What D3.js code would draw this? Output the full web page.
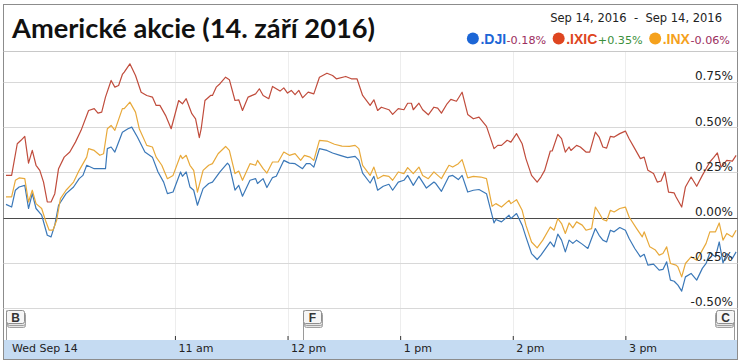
<!DOCTYPE html>
<html>
<head>
<meta charset="utf-8">
<script src="https://cdnjs.cloudflare.com/ajax/libs/d3/7.8.5/d3.min.js"></script>
<style>
	html, body { margin: 0; padding: 0; background: #fff; }
	svg { display: block; }
	text { font-family: "DejaVu Sans", Verdana, sans-serif; }
</style>
</head>
<body>
<div id="holder" style="width:743px;height:362px"><svg id="chart"></svg></div>
<script>
// texts
const title = "Americké akcie (14. září 2016)";
const dateRange = "Sep 14, 2016  -  Sep 14, 2016";
const dayLabel = "Wed Sep 14";

// legend
const symbols = [".DJI", ".IXIC", ".INX"];
const changes = ["-0.18%", "+0.35%", "-0.06%"];

// axes
const hourTicks = [90, 150, 210, 270, 330]; // minutes after 9:30 open
const hourLabels = ["11 am", "12 pm", "1 pm", "2 pm", "3 pm"];
const pctTicks = [-0.5, -0.25, 0, 0.25, 0.5, 0.75];

// news flags
const flagLetters = ["B", "F", "C"];
const flagMinutes = [0, 158, 388];

// [minutes after open, % change]
const dji = [[0,0.073],[3,0.058],[5,0.151],[7,0.169],[10,0.178],[12,0.050],[14,0.132],[16,0.050],[19,0.013],[22,-0.098],[24,-0.107],[26,-0.042],[28,0.068],[32,0.132],[36,0.169],[39,0.215],[41,0.233],[43,0.289],[47,0.270],[50,0.270],[53,0.270],[54,0.381],[56,0.390],[58,0.362],[62,0.472],[65,0.491],[67,0.500],[70,0.445],[74,0.362],[78,0.334],[81,0.252],[84,0.196],[86,0.132],[89,0.141],[93,0.252],[94,0.228],[96,0.252],[98,0.169],[100,0.151],[102,0.068],[105,0.160],[108,0.188],[110,0.196],[114,0.252],[118,0.301],[119,0.289],[122,0.151],[124,0.178],[126,0.118],[130,0.206],[133,0.215],[134,0.188],[137,0.215],[139,0.166],[142,0.221],[144,0.228],[148,0.316],[151,0.301],[154,0.298],[158,0.270],[160,0.298],[162,0.298],[164,0.279],[167,0.381],[171,0.371],[174,0.357],[178,0.344],[182,0.331],[186,0.338],[188,0.316],[190,0.246],[194,0.191],[196,0.228],[198,0.151],[201,0.173],[204,0.184],[206,0.151],[209,0.196],[212,0.206],[214,0.233],[217,0.178],[220,0.228],[224,0.163],[228,0.196],[229,0.188],[232,0.145],[236,0.228],[238,0.233],[241,0.210],[243,0.233],[246,0.141],[249,0.151],[252,0.155],[256,0.132],[260,-0.030],[261,-0.011],[264,-0.024],[268,0.013],[269,-0.006],[272,0.022],[275,-0.042],[277,-0.107],[280,-0.199],[283,-0.232],[285,-0.208],[290,-0.135],[292,-0.162],[294,-0.092],[296,-0.125],[298,-0.190],[300,-0.125],[302,-0.143],[304,-0.125],[307,-0.147],[310,-0.171],[314,-0.061],[316,-0.098],[318,-0.125],[320,-0.135],[322,-0.070],[324,-0.079],[327,-0.055],[330,-0.070],[332,-0.116],[335,-0.171],[338,-0.217],[340,-0.203],[342,-0.263],[345,-0.258],[348,-0.291],[350,-0.287],[352,-0.245],[354,-0.346],[356,-0.352],[358,-0.374],[360,-0.407],[362,-0.328],[365,-0.309],[368,-0.346],[371,-0.281],[373,-0.254],[375,-0.195],[378,-0.217],[380,-0.135],[382,-0.251],[384,-0.199],[387,-0.226],[389,-0.190]];

const ixic = [[0,0.233],[3,0.233],[6,0.408],[8,0.427],[10,0.449],[12,0.301],[14,0.371],[16,0.289],[18,0.261],[20,0.196],[22,0.086],[24,0.086],[26,0.132],[28,0.270],[31,0.334],[34,0.362],[37,0.417],[40,0.482],[44,0.592],[47,0.602],[49,0.577],[51,0.583],[53,0.666],[56,0.758],[58,0.721],[60,0.730],[62,0.791],[63,0.804],[66,0.850],[69,0.785],[72,0.693],[75,0.675],[78,0.666],[80,0.620],[82,0.620],[85,0.565],[88,0.491],[92,0.647],[94,0.629],[96,0.657],[99,0.574],[101,0.546],[103,0.442],[104,0.491],[106,0.647],[109,0.675],[110,0.675],[112,0.721],[114,0.740],[117,0.776],[119,0.762],[122,0.647],[124,0.651],[126,0.592],[129,0.666],[133,0.684],[135,0.712],[137,0.675],[140,0.657],[142,0.725],[146,0.699],[148,0.717],[150,0.688],[152,0.703],[154,0.679],[156,0.703],[158,0.662],[161,0.693],[164,0.684],[167,0.776],[171,0.798],[174,0.785],[176,0.767],[181,0.780],[184,0.767],[187,0.767],[190,0.675],[194,0.620],[196,0.651],[198,0.592],[200,0.610],[204,0.596],[206,0.570],[209,0.602],[212,0.596],[214,0.632],[216,0.632],[217,0.596],[220,0.632],[222,0.596],[225,0.568],[228,0.610],[230,0.605],[232,0.577],[235,0.629],[237,0.653],[240,0.643],[243,0.693],[246,0.570],[249,0.546],[252,0.555],[256,0.504],[260,0.381],[262,0.399],[264,0.399],[267,0.427],[269,0.417],[272,0.464],[275,0.408],[277,0.326],[280,0.233],[283,0.196],[285,0.224],[287,0.261],[290,0.368],[291,0.368],[294,0.460],[296,0.436],[298,0.362],[300,0.390],[301,0.371],[304,0.399],[306,0.390],[309,0.362],[311,0.362],[314,0.472],[316,0.445],[318,0.390],[320,0.384],[322,0.449],[324,0.445],[327,0.464],[330,0.478],[332,0.436],[335,0.381],[338,0.326],[340,0.334],[342,0.261],[345,0.243],[347,0.196],[349,0.202],[351,0.252],[353,0.141],[356,0.136],[357,0.114],[360,0.058],[362,0.169],[365,0.224],[368,0.173],[371,0.233],[373,0.270],[375,0.307],[377,0.331],[379,0.357],[381,0.279],[384,0.316],[387,0.312],[389,0.344]];

const inx = [[0,0.114],[3,0.114],[5,0.206],[7,0.219],[10,0.215],[12,0.086],[14,0.151],[16,0.077],[19,0.050],[21,-0.015],[23,-0.070],[25,-0.070],[27,-0.015],[29,0.105],[32,0.151],[36,0.196],[39,0.261],[43,0.334],[44,0.381],[47,0.371],[50,0.344],[52,0.353],[54,0.491],[56,0.509],[58,0.482],[62,0.602],[63,0.602],[66,0.638],[69,0.583],[71,0.491],[75,0.399],[78,0.390],[80,0.334],[83,0.289],[86,0.215],[89,0.233],[93,0.344],[94,0.326],[96,0.344],[98,0.289],[100,0.261],[102,0.141],[105,0.261],[108,0.289],[110,0.298],[113,0.353],[117,0.393],[119,0.371],[122,0.243],[124,0.257],[126,0.206],[130,0.298],[133,0.289],[134,0.316],[137,0.270],[139,0.246],[142,0.307],[145,0.307],[148,0.362],[151,0.344],[154,0.353],[157,0.316],[159,0.344],[162,0.334],[164,0.316],[167,0.427],[171,0.423],[175,0.405],[179,0.395],[183,0.393],[186,0.399],[188,0.381],[190,0.289],[194,0.233],[196,0.279],[198,0.215],[201,0.233],[204,0.228],[206,0.206],[209,0.252],[212,0.243],[214,0.276],[217,0.243],[220,0.279],[222,0.233],[225,0.215],[228,0.252],[229,0.243],[232,0.215],[236,0.289],[238,0.279],[241,0.298],[243,0.320],[246,0.219],[249,0.228],[253,0.224],[256,0.215],[259,0.062],[261,0.077],[264,0.058],[268,0.095],[269,0.077],[272,0.099],[275,0.040],[277,-0.042],[280,-0.135],[283,-0.168],[286,-0.125],[290,-0.052],[292,-0.070],[294,-0.006],[296,-0.033],[298,-0.088],[300,-0.030],[302,-0.057],[304,-0.024],[307,-0.042],[309,-0.070],[312,-0.061],[314,0.058],[316,0.025],[318,-0.011],[320,-0.019],[322,0.040],[324,0.031],[327,0.050],[330,0.058],[332,0.003],[336,-0.061],[339,-0.107],[340,-0.079],[343,-0.162],[346,-0.180],[348,-0.208],[350,-0.199],[352,-0.162],[354,-0.254],[357,-0.263],[358,-0.273],[360,-0.328],[362,-0.254],[365,-0.217],[368,-0.236],[371,-0.180],[373,-0.143],[375,-0.079],[378,-0.079],[380,-0.030],[382,-0.125],[384,-0.088],[387,-0.107],[389,-0.070]];

const series = [dji, ixic, inx];

function makeChart(holder, svgElement) {
	const viewWidth = holder.clientWidth;
	const viewHeight = holder.clientHeight;

	const frame = { left: 3.5, top: 4.5, right: 737.5, bottom: 359.5 };
	const plotTop = 51.5, plotBottom = 340;

	const lineColors = ["#3b78b8", "#c04c3c", "#e8a93a"];
	const dotColors = ["#1c66d6", "#de4520", "#f5a11c"];

	const svg = d3.select(svgElement)
		.attr("width", viewWidth)
		.attr("height", viewHeight);

	const open = new Date(2016, 8, 14, 9, 30);
	const toDate = m => new Date(open.getTime() + m * 60000);

	const x = d3.scaleTime()
		.domain([toDate(0), toDate(390)])
		.range([6, 738]);
	const y = d3.scaleLinear()
		.domain([-0.677, 0.918])
		.range([plotBottom, plotTop]);

	// frame
	svg.append("rect")
		.attr("x", frame.left).attr("y", frame.top)
		.attr("width", frame.right - frame.left)
		.attr("height", frame.bottom - frame.top)
		.attr("fill", "#fff")
		.attr("stroke", "#8c8c8c");

	// time band at the bottom
	svg.append("rect")
		.attr("x", frame.left + 0.5).attr("y", plotBottom)
		.attr("width", frame.right - frame.left - 1)
		.attr("height", frame.bottom - plotBottom - 0.5)
		.attr("fill", "#c5dbf2");

	// vertical grid at the hours
	svg.append("g").selectAll("line")
		.data(hourTicks)
		.join("line")
		.attr("x1", d => Math.round(x(toDate(d))) + 0.5)
		.attr("x2", d => Math.round(x(toDate(d))) + 0.5)
		.attr("y1", plotTop).attr("y2", plotBottom)
		.attr("stroke", "#ededed");

	// horizontal grid
	svg.append("g").selectAll("line")
		.data(pctTicks)
		.join("line")
		.attr("x1", frame.left).attr("x2", frame.right)
		.attr("y1", d => Math.round(y(d)) + 0.5)
		.attr("y2", d => Math.round(y(d)) + 0.5)
		.attr("stroke", d => d === 0 ? "#4a4a4a" : "#d8d8d8");

	// title separator
	svg.append("line")
		.attr("x1", frame.left).attr("x2", frame.right)
		.attr("y1", plotTop).attr("y2", plotTop)
		.attr("stroke", "#c8c8c8");

	// lines
	const line = d3.line()
		.x(d => x(toDate(d[0])))
		.y(d => y(d[1]));

	series.forEach((data, i) => {
		svg.append("path")
			.datum(data)
			.attr("fill", "none")
			.attr("stroke", lineColors[i])
			.attr("stroke-width", 1.2)
			.attr("stroke-linejoin", "round")
			.attr("d", line);
	});

	// right axis labels
	const yAxis = svg.append("g")
		.attr("transform", "translate(733,0)")
		.call(d3.axisLeft(y)
			.tickValues(pctTicks)
			.tickSize(0)
			.tickPadding(0)
			.tickFormat(d => d.toFixed(2) + "%"));
	yAxis.select(".domain").remove();
	yAxis.selectAll("text")
		.attr("dy", "-0.17em")
		.attr("fill", "#222")
		.style("font-family", "'DejaVu Sans', Verdana, sans-serif")
		.style("font-size", "12px");

	// bottom time axis
	const xAxis = svg.append("g")
		.attr("transform", "translate(0," + plotBottom + ")")
		.call(d3.axisBottom(x)
			.tickValues(hourTicks.map(toDate))
			.tickSize(-4)
			.tickPadding(4)
			.tickFormat((d, i) => hourLabels[i]));
	xAxis.select(".domain").remove();
	xAxis.selectAll(".tick line").attr("stroke", "#333");
	xAxis.selectAll("text")
		.attr("x", 3)
		.attr("text-anchor", "start")
		.attr("fill", "#222")
		.style("font-family", "'DejaVu Sans', Verdana, sans-serif")
		.style("font-size", "11px");

	svg.append("text")
		.attr("x", 12).attr("y", 352)
		.style("font-size", "11px")
		.attr("fill", "#222")
		.text(dayLabel);

	// news flags
	flagLetters.forEach((letter, i) => {
		const px = Math.round(x(toDate(flagMinutes[i]))) + 0.5;
		const w = 18, h = 13, top = 310.5;
		const flip = px + w > frame.right;
		const bx = flip ? px - w : px;
		const g = svg.append("g");
		g.append("line")
			.attr("x1", px).attr("x2", px)
			.attr("y1", top).attr("y2", plotBottom)
			.attr("stroke", "#9a9a9a");
		[4, 2].forEach(off => {
			g.append("rect")
				.attr("x", bx + (flip ? -1 : 1)).attr("y", top + off)
				.attr("width", w).attr("height", h)
				.attr("rx", 2)
				.attr("fill", "#e6e6e6")
				.attr("stroke", "#a0a0a0");
		});
		g.append("rect")
			.attr("x", bx).attr("y", top)
			.attr("width", w).attr("height", h)
			.attr("rx", 2)
			.attr("fill", "#f6f6f6")
			.attr("stroke", "#8e8e8e");
		g.append("text")
			.attr("x", bx + w / 2).attr("y", top + 11)
			.attr("text-anchor", "middle")
			.style("font-family", "'Liberation Sans', Arial, sans-serif")
			.style("font-weight", "bold")
			.style("font-size", "12px")
			.attr("fill", "#333")
			.text(letter);
	});

	// title
	svg.append("text")
		.attr("x", 12).attr("y", 37.5)
		.attr("textLength", 363)
		.attr("lengthAdjust", "spacingAndGlyphs")
		.style("font-family", "Lato, 'Open Sans', sans-serif")
		.style("font-weight", "bold")
		.style("font-size", "26px")
		.attr("fill", "#111")
		.text(title);

	// date range
	svg.append("text")
		.attr("x", 722).attr("y", 21.5)
		.attr("text-anchor", "end")
		.style("font-size", "11.5px")
		.style("white-space", "pre")
		.attr("fill", "#222")
		.text(dateRange);

	// legend row ending at x=730
	const legend = svg.append("g");
	const parts = [];
	let cx = 0;
	symbols.forEach((s, i) => {
		const dot = legend.append("circle")
			.attr("r", 6)
			.attr("cy", 38.5)
			.attr("fill", dotColors[i]);
		cx += 6;
		parts.push([dot, "cx", cx]);
		cx += 7.5;
		const sym = legend.append("text")
			.attr("y", 43.5)
			.style("font-family", "'Liberation Sans', Arial, sans-serif")
			.style("font-weight", "bold")
			.style("font-size", "14px")
			.attr("fill", dotColors[i])
			.text(s);
		parts.push([sym, "x", cx]);
		cx += sym.node().getComputedTextLength() + 0.5;
		const ch = legend.append("text")
			.attr("y", 43.5)
			.style("font-size", "11.2px")
			.attr("fill", changes[i][0] === "+" ? "#3b8f3b" : "#9c2e5e")
			.text(changes[i]);
		parts.push([ch, "x", cx]);
		cx += ch.node().getComputedTextLength() + 6.5;
	});
	const startX = 730 - (cx - 6.5);
	parts.forEach(([el, attr, v]) => el.attr(attr, startX + v));
}

makeChart(document.getElementById("holder"), document.getElementById("chart"));
</script>
</body>
</html>
